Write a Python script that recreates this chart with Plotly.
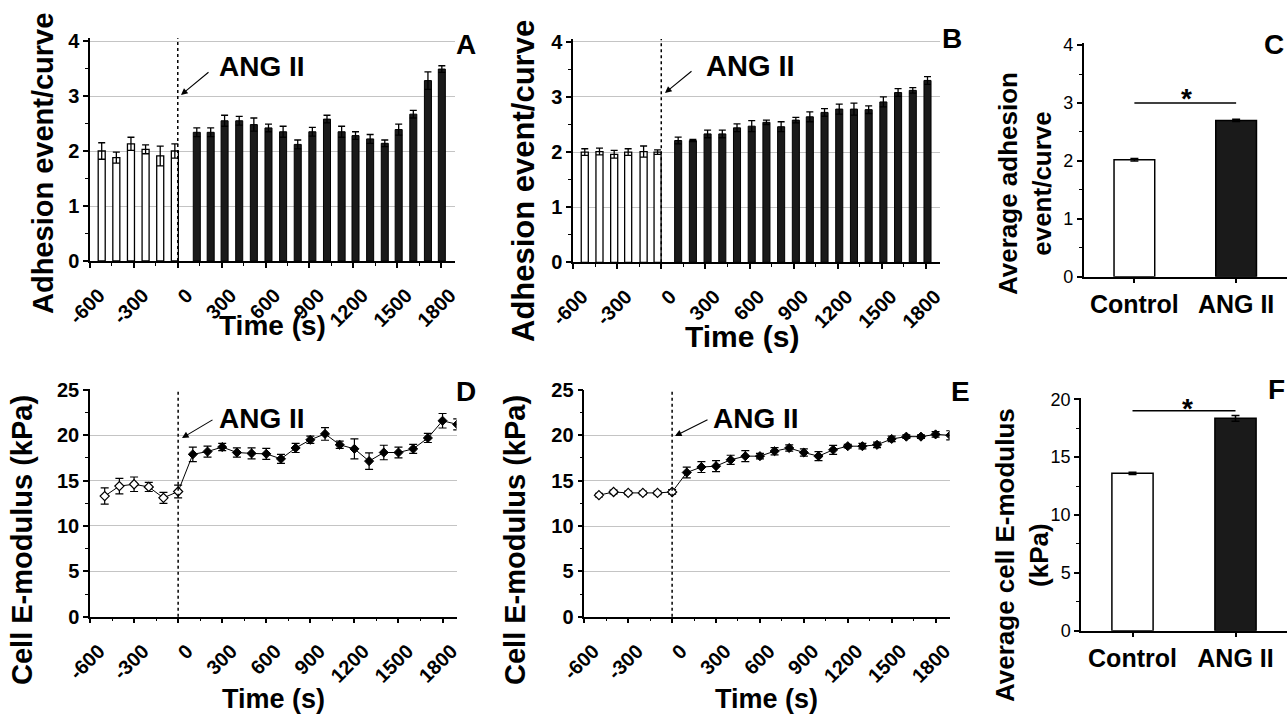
import plotly.graph_objects as go

# ---------------- data ----------------
TIME_TICKS = [-600, -300, 0, 300, 600, 900, 1200, 1500, 1800]
TIME_TICKTEXT = ["-600", "-300", "0", "300", "600", "900", "1200", "1500", "1800"]

# Panel A (adhesion events, bars)
A_CTRL_T = [-520, -420, -320, -220, -120, -20]
A_CTRL = [2.00, 1.88, 2.13, 2.03, 1.91, 2.00]
A_CTRL_ERR = [0.15, 0.10, 0.12, 0.08, 0.18, 0.13]
A_ANG_T = [130, 225, 320, 420, 520, 620, 720, 820, 920, 1020, 1120, 1215, 1315, 1415, 1510, 1610, 1710, 1805]
A_ANG = [2.34, 2.34, 2.55, 2.55, 2.48, 2.42, 2.35, 2.12, 2.35, 2.58, 2.35, 2.28, 2.22, 2.14, 2.39, 2.67, 3.28, 3.49]
A_ANG_ERR = [0.08, 0.08, 0.10, 0.08, 0.12, 0.07, 0.10, 0.08, 0.08, 0.07, 0.10, 0.07, 0.08, 0.06, 0.10, 0.07, 0.16, 0.06]

# Panel B (adhesion events, bars)
B_CTRL_T = [-520, -420, -320, -225, -120, -25]
B_CTRL = [2.00, 2.01, 1.96, 2.00, 2.01, 2.00]
B_CTRL_ERR = [0.06, 0.06, 0.07, 0.06, 0.10, 0.04]
B_ANG_T = [115, 215, 315, 415, 515, 615, 715, 815, 915, 1010, 1110, 1210, 1310, 1410, 1510, 1610, 1710, 1810]
B_ANG = [2.21, 2.21, 2.33, 2.33, 2.44, 2.47, 2.54, 2.46, 2.58, 2.64, 2.72, 2.78, 2.78, 2.77, 2.91, 3.08, 3.12, 3.30]
B_ANG_ERR = [0.06, 0.02, 0.07, 0.07, 0.07, 0.10, 0.04, 0.09, 0.05, 0.09, 0.07, 0.09, 0.11, 0.07, 0.09, 0.07, 0.05, 0.07]

# Panel C (average adhesion)
GROUPS = ["Control", "ANG II"]
C_VALS = [2.02, 2.70]
C_ERR = [0.02, 0.02]

# Panel D (cell E-modulus)
D_CTRL_T = [-500, -400, -300, -200, -100, 0]
D_CTRL = [13.3, 14.4, 14.6, 14.3, 13.1, 13.8]
D_CTRL_ERR = [0.9, 0.85, 0.8, 0.5, 0.6, 0.7]
D_ANG_T = [100, 200, 300, 400, 500, 600, 700, 800, 900, 1000, 1100, 1200, 1300, 1400, 1500, 1600, 1700, 1800, 1900]
D_ANG = [17.9, 18.2, 18.7, 18.1, 18.0, 17.95, 17.4, 18.6, 19.5, 20.15, 18.95, 18.5, 17.15, 18.1, 18.1, 18.5, 19.7, 21.6, 21.2]
D_ANG_ERR = [0.8, 0.6, 0.4, 0.5, 0.6, 0.6, 0.5, 0.5, 0.4, 0.7, 0.4, 1.1, 0.9, 0.8, 0.6, 0.5, 0.5, 0.8, 0.6]

# Panel E (cell E-modulus)
E_CTRL_T = [-500, -400, -300, -200, -100, 0]
E_CTRL = [13.4, 13.75, 13.65, 13.65, 13.65, 13.75]
E_CTRL_ERR = [0.2, 0.2, 0.2, 0.2, 0.2, 0.25]
E_ANG_T = [100, 200, 300, 400, 500, 600, 700, 800, 900, 1000, 1100, 1200, 1300, 1400, 1500, 1600, 1700, 1800, 1900]
E_ANG = [15.9, 16.5, 16.6, 17.3, 17.7, 17.7, 18.25, 18.6, 18.1, 17.7, 18.4, 18.8, 18.8, 18.95, 19.6, 19.85, 19.85, 20.1, 20.0]
E_ANG_ERR = [0.6, 0.6, 0.6, 0.5, 0.6, 0.3, 0.4, 0.35, 0.4, 0.5, 0.5, 0.2, 0.3, 0.3, 0.3, 0.2, 0.2, 0.3, 0.5]

# Panel F (average E-modulus)
F_VALS = [13.6, 18.35]
F_ERR = [0.1, 0.25]

# ---------------- layout helpers ----------------
W, H = 1287, 717
FONT = "Liberation Sans, Arial, Helvetica, sans-serif"
NARROW = "Liberation Sans Narrow, Arial Narrow, Liberation Sans, Arial, sans-serif"


def PX(x):
    return x / W


def PY(y):
    return 1 - y / H


GRID = "#c4c4c4"

fig = go.Figure()


def time_xaxis(x0, x1, anchor):
    return dict(
        domain=[PX(x0), PX(x1)], anchor=anchor, range=[-600, 1895], automargin=False,
        tickmode="array", tickvals=TIME_TICKS, ticktext=TIME_TICKTEXT,
        tickangle=-45, ticks="outside", ticklen=5, tickwidth=1.5, tickcolor="black",
        ticklabelstandoff=8, ticklabelshift=9,
        showline=True, linecolor="black", linewidth=1.5, showgrid=False, zeroline=False,
        tickfont=dict(family=FONT, size=20, color="black", weight="bold"),
        minor=dict(tickmode="linear", tick0=-600, dtick=150, ticks="outside", ticklen=3,
                   tickwidth=1, tickcolor="black", showgrid=False),
    )


def val_yaxis(ybot, ytop, rng, tickvals, minor, anchor, grid=True, bold=True, size=20):
    return dict(
        domain=[PY(ybot), PY(ytop)], anchor=anchor, range=rng, automargin=False,
        tickmode="array", tickvals=tickvals, ticktext=[str(v) for v in tickvals],
        ticks="outside", ticklen=5, tickwidth=1.5, tickcolor="black",
        showline=True, linecolor="black", linewidth=1.5,
        showgrid=grid, gridcolor=GRID, gridwidth=1, zeroline=False,
        tickfont=dict(family=FONT if bold else NARROW, size=size, color="black",
                      weight="bold" if bold else "normal"),
        minor=dict(tickmode="linear", tick0=0, dtick=minor, ticks="outside", ticklen=3,
                   tickwidth=1, tickcolor="black", showgrid=False),
    )


def cat_xaxis(x0, x1, anchor):
    return dict(
        domain=[PX(x0), PX(x1)], anchor=anchor, range=[-0.5, 1.5], automargin=False,
        tickmode="array", tickvals=list(range(len(GROUPS))), ticktext=GROUPS,
        ticks="outside", ticklen=5, tickwidth=1.5, tickcolor="black",
        showline=True, linecolor="black", linewidth=1.5, showgrid=False, zeroline=False,
        tickfont=dict(family=FONT, size=25, color="black", weight="bold"),
    )


# ---------------- traces ----------------
BAR_W = 48


def add_bars(ct, cv, ce, at, av, ae, xa, ya):
    fig.add_trace(go.Bar(
        x=ct, y=cv, width=BAR_W, xaxis=xa, yaxis=ya,
        marker=dict(color="white", line=dict(color="black", width=1.3)),
        error_y=dict(type="data", array=ce, symmetric=True, color="black", thickness=1.3, width=3.5),
    ))
    fig.add_trace(go.Bar(
        x=at, y=av, width=BAR_W, xaxis=xa, yaxis=ya,
        marker=dict(color="#1a1a1a", line=dict(color="black", width=1)),
        error_y=dict(type="data", array=ae, symmetric=True, color="black", thickness=1.3, width=3.5),
    ))


add_bars(A_CTRL_T, A_CTRL, A_CTRL_ERR, A_ANG_T, A_ANG, A_ANG_ERR, "x", "y")
add_bars(B_CTRL_T, B_CTRL, B_CTRL_ERR, B_ANG_T, B_ANG, B_ANG_ERR, "x2", "y2")


def add_avg(vals, errs, xa, ya):
    fig.add_trace(go.Bar(
        x=[0, 1], y=vals, width=0.4, xaxis=xa, yaxis=ya,
        marker=dict(color=["white", "#1a1a1a"], line=dict(color="black", width=1.5)),
        error_y=dict(type="data", array=errs, symmetric=True, color="black", thickness=1.5, width=4),
    ))


add_avg(C_VALS, C_ERR, "x3", "y3")
add_avg(F_VALS, F_ERR, "x6", "y6")


def add_line(ct, cv, ce, at, av, ae, xa, ya):
    fig.add_trace(go.Scatter(
        x=ct + at, y=cv + av, mode="lines", xaxis=xa, yaxis=ya,
        line=dict(color="black", width=1),
    ))
    fig.add_trace(go.Scatter(
        x=ct, y=cv, mode="markers", xaxis=xa, yaxis=ya,
        marker=dict(symbol="diamond", size=7, color="white", line=dict(color="black", width=1.2)),
        error_y=dict(type="data", array=ce, symmetric=True, color="black", thickness=1.2, width=4),
    ))
    fig.add_trace(go.Scatter(
        x=at, y=av, mode="markers", xaxis=xa, yaxis=ya,
        marker=dict(symbol="diamond", size=7, color="black", line=dict(color="black", width=1)),
        error_y=dict(type="data", array=ae, symmetric=True, color="black", thickness=1.2, width=4),
    ))


add_line(D_CTRL_T, D_CTRL, D_CTRL_ERR, D_ANG_T, D_ANG, D_ANG_ERR, "x4", "y4")
add_line(E_CTRL_T, E_CTRL, E_CTRL_ERR, E_ANG_T, E_ANG, E_ANG_ERR, "x5", "y5")

# ---------------- axes ----------------
layout = dict(
    width=W, height=H, margin=dict(l=0, r=0, t=0, b=0, autoexpand=False),
    paper_bgcolor="white", plot_bgcolor="white", showlegend=False,
    barmode="overlay", font=dict(family=FONT, color="black"),
    xaxis=time_xaxis(90, 455, "y"),
    yaxis=val_yaxis(261, 38.25, [0, 4.05], [0, 1, 2, 3, 4], 0.5, "x"),
    xaxis2=time_xaxis(573, 940, "y2"),
    yaxis2=val_yaxis(262.3, 39.1, [0, 4.05], [0, 1, 2, 3, 4], 0.5, "x2"),
    xaxis3=cat_xaxis(1083.5, 1287, "y3"),
    yaxis3=val_yaxis(276.7, 43.4, [0, 4.03], [0, 1, 2, 3, 4], 0.5, "x3", grid=False, bold=False, size=18),
    xaxis4=time_xaxis(90, 456.5, "y4"),
    yaxis4=val_yaxis(616.7, 389, [0, 25.1], [0, 5, 10, 15, 20, 25], 2.5, "x4"),
    xaxis5=time_xaxis(584.3, 949.5, "y5"),
    yaxis5=val_yaxis(616.7, 389.5, [0, 25.05], [0, 5, 10, 15, 20, 25], 2.5, "x5"),
    xaxis6=cat_xaxis(1081, 1287, "y6"),
    yaxis6=val_yaxis(630.7, 398.1, [0, 20.1], [0, 5, 10, 15, 20], 2.5, "x6", grid=False, bold=False, size=18),
)
fig.update_layout(**layout)

# dotted ANG II start lines
shapes = []
for xa, ya in [("x", "y"), ("x2", "y2"), ("x4", "y4"), ("x5", "y5")]:
    shapes.append(dict(type="line", xref=xa, yref=ya + " domain", x0=0, x1=0, y0=0, y1=1,
                       line=dict(color="black", width=1.5, dash="dot"), layer="above"))
# significance lines
shapes.append(dict(type="line", xref="x3", yref="y3", x0=0, x1=1, y0=3.0, y1=3.0,
                   line=dict(color="black", width=1.5)))
shapes.append(dict(type="line", xref="x6", yref="y6", x0=0, x1=1, y0=19.0, y1=19.0,
                   line=dict(color="black", width=1.5)))
fig.update_layout(shapes=shapes)

ann = []


def text(x, y, s, size, angle=0, weight="bold", xanchor="center", family=FONT):
    ann.append(dict(x=PX(x), y=PY(y), xref="paper", yref="paper", text=s, showarrow=False,
                    textangle=angle, xanchor=xanchor, yanchor="middle",
                    font=dict(family=family, size=size, color="black", weight=weight)))


def arrow(hx, hy, tx, ty):
    ann.append(dict(x=PX(hx), y=PY(hy), xref="paper", yref="paper", text="", showarrow=True,
                    ax=tx - hx, ay=ty - hy, axref="pixel", ayref="pixel",
                    arrowhead=2, arrowsize=1.2, arrowwidth=1.1, arrowcolor="black", standoff=0))


# panel letters
text(466, 44, "A", 28)
text(952, 39, "B", 28)
text(1286, 44, "C", 28, xanchor="right")
text(466, 391, "D", 28)
text(960, 391, "E", 28)
text(1276, 389, "F", 28)

# ANG II labels with arrows
text(262, 67, "ANG II", 28)
arrow(181, 95, 210, 71)
text(750, 66, "ANG II", 29)
arrow(665, 93, 693, 70)
text(262, 418, "ANG II", 28)
arrow(182, 438, 214, 419)
text(756, 418, "ANG II", 28)
arrow(675, 436, 709, 419)

# axis titles
text(43, 164, "Adhesion event/curve", 29, angle=-90)
text(272, 325, "Time (s)", 28)
text(523, 181, "Adhesion event/curve", 31, angle=-90)
text(742, 336, "Time (s)", 30)
text(1025, 184, "Average adhesion<br>event/curve", 26, angle=-90)
text(22, 540, "Cell E-modulus (kPa)", 29, angle=-90)
text(273, 699, "Time (s)", 27)
text(515, 540, "Cell E-modulus (kPa)", 29, angle=-90)
text(767, 699, "Time (s)", 27)
text(1022, 555, "Average cell E-modulus<br>(kPa)", 26, angle=-90)

# significance stars
text(1186, 98, "*", 28)
text(1187, 408, "*", 28)

fig.update_layout(annotations=ann)

fig.write_html("out.html")
